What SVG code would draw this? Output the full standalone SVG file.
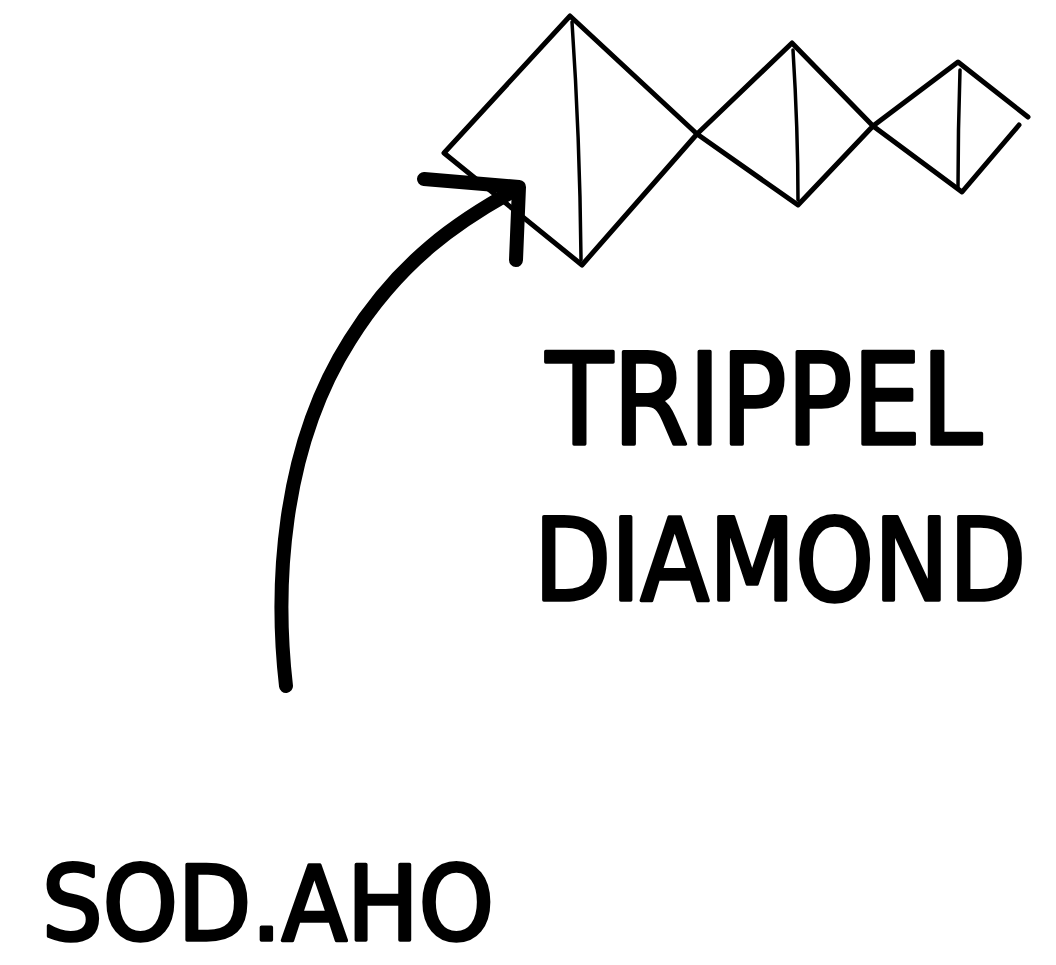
<svg xmlns="http://www.w3.org/2000/svg" width="1056" height="965" viewBox="0 0 1056 965">
<style>
.edge{fill:none;stroke:#000;stroke-width:5;stroke-linejoin:round;stroke-linecap:round}
.inner{fill:none;stroke:#000;stroke-width:3.5;stroke-linecap:round}
.arrow{fill:none;stroke:#000;stroke-width:14;stroke-linecap:round;stroke-linejoin:round}
.lbl{font-family:"DejaVu Sans Condensed","DejaVu Sans",sans-serif;fill:#000;stroke:#000;stroke-width:3.5;stroke-linejoin:round}
</style>
<rect width="1056" height="965" fill="#fff"/>
<g id="diamond1">
<path class="edge" d="M570,16 L697,134 L582,265 L444,153 Z"/>
<path class="inner" d="M572,22 Q580,140 581,260"/>
</g>
<g id="diamond2">
<path class="edge" d="M697,134 L792,43 L873,126 L798,205 Z"/>
<path class="inner" d="M793,50 Q798,130 798,200"/>
</g>
<g id="diamond3">
<path class="edge" d="M1028,117 L958,62 L873,126 L962,192 L1019,125"/>
<path class="inner" d="M960,70 Q958,130 958,188"/>
</g>
<g id="connectors">
<path class="arrow" d="M286,686 C275,590 280,450 350,340 C400,260 460,220 515,190"/>
<path class="arrow" d="M424,179 L519,187 L516,260"/>
</g>
<g id="label-trippel">
<text class="lbl" x="546" y="444" font-size="126" textLength="436" lengthAdjust="spacingAndGlyphs">TRIPPEL</text>
<text class="lbl" x="534" y="600" font-size="114" textLength="492" lengthAdjust="spacingAndGlyphs">DIAMOND</text>
</g>
<g id="label-author">
<text class="lbl" x="42" y="940" font-size="104" textLength="452" lengthAdjust="spacingAndGlyphs">SOD.AHO</text>
</g>
</svg>
